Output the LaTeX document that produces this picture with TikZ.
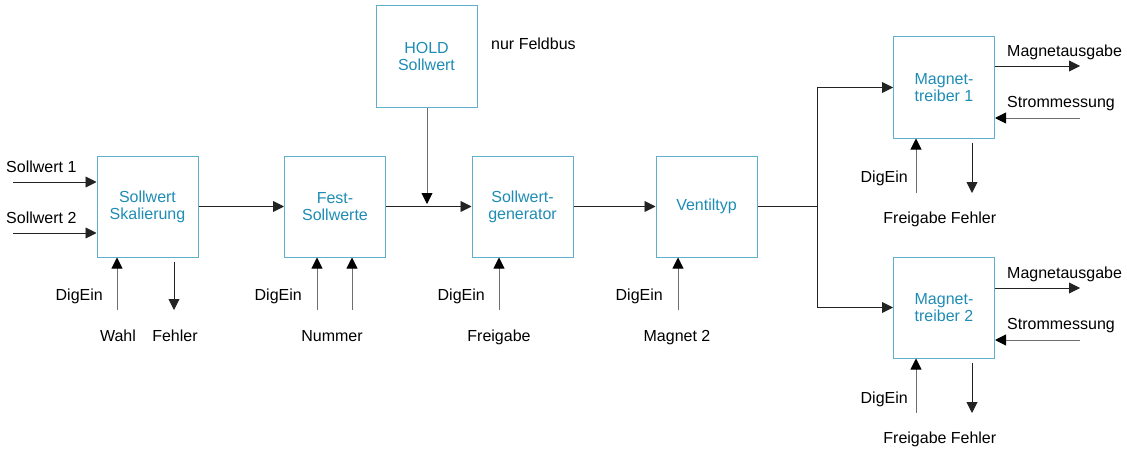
\documentclass[tikz,border=0pt]{standalone}
\usepackage{fontspec}
\setmainfont{Liberation Sans}
\usetikzlibrary{arrows.meta}
\definecolor{boxline}{RGB}{95,175,205}
\definecolor{boxtext}{RGB}{30,140,180}
\definecolor{mainline}{RGB}{35,35,35}
\definecolor{sideline}{RGB}{110,110,110}
\begin{document}
\begin{tikzpicture}[x=1pt,y=-1pt,
  every node/.style={font=\fontsize{16}{17}\selectfont},
  blk/.style={draw=boxline, line width=1pt, minimum width=101pt, minimum height=101pt,
    inner sep=0pt, align=center, text=boxtext},
  arr/.style={draw=mainline, line width=0.9pt, -{Triangle[length=11pt,width=11pt]}},
  sarr/.style={draw=sideline, line width=0.9pt, -{Triangle[length=11pt,width=11pt,color=black]}},
  ln/.style={draw=mainline, line width=0.9pt},
  lbl/.style={inner sep=0pt, text=black}]
\useasboundingbox (0,0) rectangle (1127,452);

% blocks
\node[blk] (sk)   at (147.5,206.5) {Sollwert\\Skalierung};
\node[blk] (fs)   at (335,206.5)   {Fest-\\Sollwerte};
\node[blk] (hold) at (426.5,56.5)  {HOLD\\Sollwert};
\node[blk] (gen)  at (522.5,206.5) {Sollwert-\\generator};
\node[blk] (vt)   at (706.5,206.5) {\raisebox{-3pt}{Ventiltyp}};
\node[blk] (mt1)  at (944,87.5)    {Magnet-\\treiber 1};
\node[blk] (mt2)  at (944,307.5)   {Magnet-\\treiber 2};

% left inputs
\coordinate (s1) at (13,182);
\coordinate (s2) at (13,233);
\node[lbl, anchor=base west] (ls1) at (6,172) {Sollwert 1};
\node[lbl, anchor=base west] (ls2) at (6,223) {Sollwert 2};
\draw[arr] (s1) -- (sk.west |- s1);
\draw[arr] (s2) -- (sk.west |- s2);

% main flow
\draw[arr] (sk.east) -- (fs.west);
\draw[arr] (fs.east) -- (gen.west);
\coordinate (hj) at (427,204);
\draw[sarr] (hold.south -| hj) -- (hj);
\node[lbl, anchor=base west] (nf) at (491,50) {nur Feldbus};
\draw[arr] (gen.east) -- (vt.west);
\coordinate (br) at (817,206.5);
\draw[ln] (vt.east) -- (br);
\draw[arr] (br) |- (mt1.west);
\draw[arr] (br) |- (mt2.west);

% Sollwert Skalierung bottom
\coordinate (a1) at (117,310);
\coordinate (a2) at (174,310);
\draw[sarr] (a1) -- (a1 |- sk.south);
\draw[arr] ([yshift=-4pt]a2 |- sk.south) -- (a2);
\node[lbl, anchor=base east] (d1) at (103,300) {DigEin};
\node[lbl, anchor=base] (w1) at (118,341) {Wahl};
\node[lbl, anchor=base] (f1) at (175,341) {Fehler};

% Fest-Sollwerte bottom
\coordinate (b1) at (317,310);
\coordinate (b2) at (352,310);
\draw[sarr] (b1) -- (b1 |- fs.south);
\draw[sarr] (b2) -- (b2 |- fs.south);
\node[lbl, anchor=base east] (d2) at (302,300) {DigEin};
\node[lbl, anchor=base] (n2) at (332,341) {Nummer};

% generator bottom
\coordinate (c1) at (499,310);
\draw[sarr] (c1) -- (c1 |- gen.south);
\node[lbl, anchor=base east] (d3) at (485,300) {DigEin};
\node[lbl, anchor=base] (fr3) at (499,341) {Freigabe};

% Ventiltyp bottom
\coordinate (e1) at (678,310);
\draw[sarr] (e1) -- (e1 |- vt.south);
\node[lbl, anchor=base east] (d4) at (663,300) {DigEin};
\node[lbl, anchor=base] (m4) at (677,341) {Magnet 2};

% Magnettreiber 1
\coordinate (m1o) at (1080,66);
\coordinate (m1i) at (1080,118);
\draw[arr] (mt1.east |- m1o) -- (m1o);
\draw[sarr] (m1i) -- (mt1.east |- m1i);
\node[lbl, anchor=base west] (ma1) at (1007,57) {Magnetausgabe};
\node[lbl, anchor=base west] (sm1) at (1007,107) {Strommessung};
\coordinate (g1) at (916,193);
\coordinate (h1) at (972,193);
\draw[sarr] (g1) -- (g1 |- mt1.south);
\draw[arr] ([yshift=-4pt]h1 |- mt1.south) -- (h1);
\node[lbl, anchor=base east] (d5) at (908,182) {DigEin};
\node[lbl, anchor=base] (fr5) at (915,223) {Freigabe};
\node[lbl, anchor=base] (fe5) at (973.5,223) {Fehler};

% Magnettreiber 2
\coordinate (m2o) at (1080,288);
\coordinate (m2i) at (1080,340);
\draw[arr] (mt2.east |- m2o) -- (m2o);
\draw[sarr] (m2i) -- (mt2.east |- m2i);
\node[lbl, anchor=base west] (ma2) at (1007,278) {Magnetausgabe};
\node[lbl, anchor=base west] (sm2) at (1007,329) {Strommessung};
\coordinate (g2) at (916,413);
\coordinate (h2) at (972,413);
\draw[sarr] (g2) -- (g2 |- mt2.south);
\draw[arr] ([yshift=-4pt]h2 |- mt2.south) -- (h2);
\node[lbl, anchor=base east] (d6) at (908,403) {DigEin};
\node[lbl, anchor=base] (fr6) at (915,443) {Freigabe};
\node[lbl, anchor=base] (fe6) at (973.5,443) {Fehler};
\end{tikzpicture}
\end{document}
